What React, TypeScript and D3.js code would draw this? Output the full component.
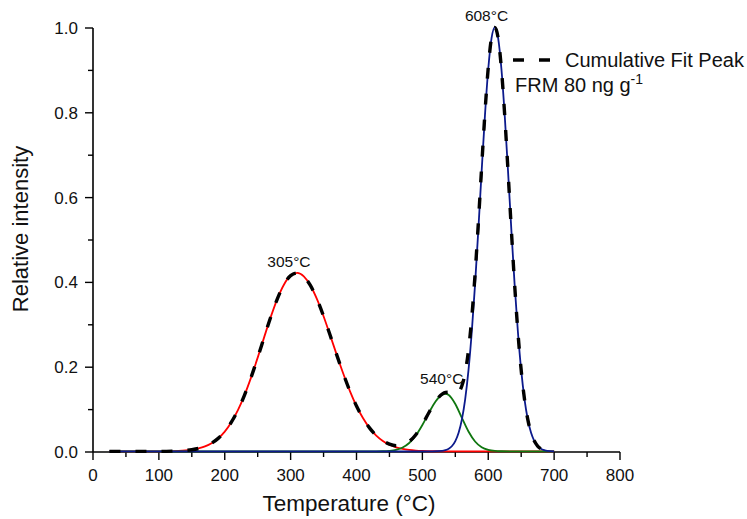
import * as d3 from 'd3';

// Temperature (°C) / relative intensity
const redT = [25, 100, 120, 130, 140, 150, 160, 170, 180, 190, 200, 210, 220, 230, 240, 250, 260, 270, 280, 290, 300, 310, 320, 330, 340, 350, 360, 370, 380, 390, 400, 410, 420, 430, 440, 450, 460, 470, 480, 490, 500, 520, 560, 700];
const redV = [0, 0.0001, 0.0006, 0.0011, 0.0021, 0.0039, 0.0069, 0.0118, 0.0194, 0.0307, 0.0468, 0.0688, 0.0973, 0.1328, 0.1746, 0.2212, 0.2701, 0.3178, 0.3604, 0.3938, 0.4147, 0.4209, 0.4127, 0.3914, 0.3592, 0.3189, 0.2739, 0.2276, 0.183, 0.1423, 0.1071, 0.078, 0.0549, 0.0374, 0.0247, 0.0157, 0.0097, 0.0058, 0.0034, 0.0019, 0.001, 0.0003, 0, 0];

const greenT = [25, 400, 430, 440, 450, 460, 470, 480, 490, 500, 510, 520, 530, 535, 540, 550, 560, 570, 580, 590, 600, 610, 620, 640, 700];
const greenV = [0, 0, 0.0001, 0.0004, 0.0014, 0.0038, 0.0092, 0.0198, 0.0374, 0.0623, 0.0913, 0.1178, 0.1339, 0.136, 0.1331, 0.1119, 0.0791, 0.047, 0.0234, 0.0098, 0.0035, 0.001, 0.0003, 0, 0];

const blueT = [25, 500, 530, 535, 540, 545, 550, 555, 560, 565, 570, 575, 580, 585, 590, 595, 600, 605, 610, 615, 620, 625, 630, 635, 640, 645, 650, 655, 660, 665, 670, 675, 680, 685, 690, 700];
const blueV = [0, 0, 0.0013, 0.003, 0.0063, 0.0127, 0.0243, 0.0439, 0.0756, 0.1234, 0.1915, 0.2821, 0.3946, 0.5243, 0.6615, 0.7926, 0.9018, 0.9745, 1.0, 0.9745, 0.9018, 0.7926, 0.6615, 0.5243, 0.3946, 0.2821, 0.1915, 0.1234, 0.0756, 0.0439, 0.0243, 0.0127, 0.0063, 0.003, 0.0013, 0.0002];

const cumT = [25, 100, 120, 130, 140, 150, 160, 170, 180, 190, 200, 210, 220, 230, 240, 250, 260, 270, 280, 290, 300, 310, 320, 330, 340, 350, 360, 370, 380, 390, 400, 410, 420, 430, 440, 450, 460, 470, 480, 490, 500, 510, 520, 530, 535, 540, 545, 550, 555, 560, 565, 570, 575, 580, 585, 590, 595, 600, 605, 610, 615, 620, 625, 630, 635, 640, 645, 650, 655, 660, 665, 670, 675, 680, 685, 690, 700];
const cumV = [0, 0.0001, 0.0006, 0.0011, 0.0021, 0.0039, 0.0069, 0.0118, 0.0194, 0.0307, 0.0468, 0.0688, 0.0973, 0.1328, 0.1746, 0.2212, 0.2701, 0.3178, 0.3604, 0.3938, 0.4147, 0.4209, 0.4127, 0.3914, 0.3592, 0.3189, 0.2739, 0.2276, 0.183, 0.1423, 0.1071, 0.078, 0.0549, 0.0375, 0.0251, 0.0171, 0.0135, 0.015, 0.0232, 0.0393, 0.0633, 0.0918, 0.1181, 0.1353, 0.139, 0.1394, 0.1374, 0.1362, 0.14, 0.1547, 0.1857, 0.2385, 0.316, 0.418, 0.5398, 0.6713, 0.7986, 0.9053, 0.9764, 1.0, 0.975, 0.9021, 0.7926, 0.6615, 0.5243, 0.3946, 0.2821, 0.1915, 0.1234, 0.0756, 0.0439, 0.0243, 0.0127, 0.0063, 0.003, 0.0013, 0.0002];

const xTicks = [0, 100, 200, 300, 400, 500, 600, 700, 800];
const xMinor = [50, 150, 250, 350, 450, 550, 650, 750];
const yTicks = [0, 0.2, 0.4, 0.6, 0.8, 1.0];
const yMinor = [0.1, 0.3, 0.5, 0.7, 0.9];

const peakLabels = [
  { t: 305, v: 0.421, text: '305°C' },
  { t: 540, v: 0.139, text: '540°C' },
  { t: 608, v: 1.0, text: '608°C' },
];

const font = '"Liberation Sans", Arial, Helvetica, sans-serif';

export default function App() {
  const width = 747;
  const height = 519;

  const x = d3.scaleLinear().domain([0, 800]).range([93, 620]);
  const y = d3.scaleLinear().domain([0, 1]).range([452, 28]);

  const line = d3
    .line<[number, number]>()
    .x(d => x(d[0]))
    .y(d => y(d[1]) - 0.6)
    .curve(d3.curveMonotoneX);

  const zip = (ts: number[], vs: number[]) => ts.map((t, i) => [t, vs[i]] as [number, number]);

  const curves = [
    { pts: zip(redT, redV), color: '#ff0000' },
    { pts: zip(greenT, greenV), color: '#0f760f' },
    { pts: zip(blueT, blueV), color: '#0c1a8c' },
  ];

  // label offsets relative to the peak top
  const labelPos = [
    { dx: -5, dy: -6 },
    { dx: -7, dy: -9 },
    { dx: -7, dy: -7 },
  ];

  return (
    <svg
      width={width}
      height={height}
      style={{ position: 'absolute', left: 0, top: 0, background: '#fff' }}
      fontFamily={font}
    >
      {/* axes */}
      <line x1={x(0)} x2={x(800)} y1={y(0)} y2={y(0)} stroke="#000" strokeWidth={1.6} />
      <line x1={x(0)} x2={x(0)} y1={y(0)} y2={y(1)} stroke="#000" strokeWidth={1.6} />
      {xTicks.map(t => (
        <g key={'x' + t}>
          <line x1={x(t)} x2={x(t)} y1={y(0)} y2={y(0) + 8} stroke="#000" strokeWidth={1.4} />
          <text x={x(t)} y={481} fontSize={17} textAnchor="middle" fill="#111">
            {t}
          </text>
        </g>
      ))}
      {xMinor.map(t => (
        <line key={'xm' + t} x1={x(t)} x2={x(t)} y1={y(0)} y2={y(0) + 5} stroke="#000" strokeWidth={1.4} />
      ))}
      {yTicks.map(t => (
        <g key={'y' + t}>
          <line x1={x(0) - 8} x2={x(0)} y1={y(t)} y2={y(t)} stroke="#000" strokeWidth={1.4} />
          <text x={78} y={y(t) + 6} fontSize={17} textAnchor="end" fill="#111">
            {t.toFixed(1)}
          </text>
        </g>
      ))}
      {yMinor.map(t => (
        <line key={'ym' + t} x1={x(0) - 5} x2={x(0)} y1={y(t)} y2={y(t)} stroke="#000" strokeWidth={1.4} />
      ))}

      {/* fitted peaks, then the cumulative fit on top */}
      {curves.map((c, i) => (
        <path key={i} d={line(c.pts) || ''} fill="none" stroke={c.color} strokeWidth={1.8} />
      ))}
      <path
        d={line(zip(cumT, cumV)) || ''}
        fill="none"
        stroke="#000"
        strokeWidth={3.4}
        strokeDasharray="11,15"
      />

      {/* axis titles */}
      <text x={349} y={511} fontSize={22.5} textAnchor="middle" fill="#111">
        Temperature (°C)
      </text>
      <text
        transform={`translate(28,229) rotate(-90)`}
        fontSize={22}
        textAnchor="middle"
        fill="#111"
      >
        Relative intensity
      </text>

      {/* peak labels */}
      {peakLabels.map((p, i) => (
        <text
          key={p.text}
          x={x(p.t) + labelPos[i].dx}
          y={y(p.v) + labelPos[i].dy}
          fontSize={15.5}
          textAnchor="middle"
          fill="#111"
        >
          {p.text}
        </text>
      ))}

      {/* legend */}
      <line x1={513} x2={550} y1={60} y2={60} stroke="#000" strokeWidth={3.6} strokeDasharray="11,15" />
      <text x={565} y={67} fontSize={20} fill="#111">
        Cumulative Fit Peak
      </text>
      <text x={515} y={92} fontSize={20} fill="#111">
        FRM 80 ng g
        <tspan dy={-8} fontSize={14}>-1</tspan>
      </text>
    </svg>
  );
}
